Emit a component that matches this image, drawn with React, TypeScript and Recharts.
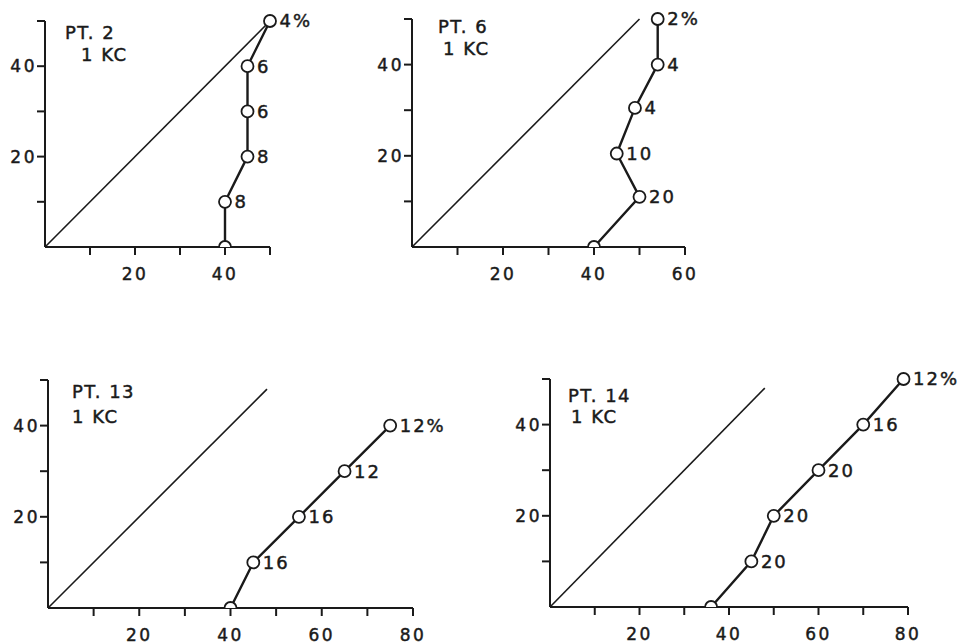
import React from 'react';
import { ScatterChart, Scatter, XAxis, YAxis, LabelList } from 'recharts';

// ---- data ----
const pt2X = [40, 40, 45, 45, 45, 50];
const pt2Y = [0, 10, 20, 30, 40, 50];
const pt2Labels = ['', '8', '8', '6', '6', '4%'];

const pt6X = [40, 50, 45, 49, 54, 54];
const pt6Y = [0, 11, 20.5, 30.5, 40, 50];
const pt6Labels = ['', '20', '10', '4', '4', '2%'];

const pt13X = [40, 45, 55, 65, 75];
const pt13Y = [0, 10, 20, 30, 40];
const pt13Labels = ['', '16', '16', '12', '12%'];

const pt14X = [36, 45, 50, 60, 70, 79];
const pt14Y = [0, 10, 20, 30, 40, 50];
const pt14Labels = ['', '20', '20', '20', '16', '12%'];

const diagShort = [0, 50];
const diagLong = [0, 48];

const yTicks = [10, 20, 30, 40, 50];
const yLabelled = [20, 40];
const xTicks50 = [10, 20, 30, 40, 50];
const xTicks60 = [10, 20, 30, 40, 50, 60];
const xTicks80 = [10, 20, 30, 40, 50, 60, 70, 80];
const xLabelled = [20, 40, 60, 80];

const titles = [
  ['PT. 2', '1 KC'],
  ['PT. 6', '1 KC'],
  ['PT. 13', '1 KC'],
  ['PT. 14', '1 KC'],
];

const FONT = '"DejaVu Sans", "Liberation Sans", sans-serif';
const INK = '#1a1a1a';

function build(xs: number[], ys: number[], labels: string[]) {
  return xs.map((x, i) => ({ x, y: ys[i], label: labels[i] }));
}
function diag(v: number[]) {
  return v.map((d) => ({ x: d, y: d }));
}

const Marker = (props: any) => {
  const { cx, cy, payload } = props;
  if (cx == null || cy == null) return <g />;
  const r = 6;
  if (payload && payload.y === 0) {
    return (
      <path
        d={`M ${cx - r} ${cy} A ${r} ${r} 0 0 1 ${cx + r} ${cy}`}
        fill="#fff"
        stroke={INK}
        strokeWidth={1.8}
      />
    );
  }
  return <circle cx={cx} cy={cy} r={r} fill="#fff" stroke={INK} strokeWidth={1.8} />;
};

const NoShape = () => <g />;

// plot geometry for each panel: plot left/right/top/bottom in page pixels
const panels = [
  { plotL: 45, plotR: 270, plotT: 21, plotB: 247, xMax: 50, xTicks: xTicks50, data: build(pt2X, pt2Y, pt2Labels), diagData: diag(diagShort) },
  { plotL: 412, plotR: 685, plotT: 19, plotB: 247, xMax: 60, xTicks: xTicks60, data: build(pt6X, pt6Y, pt6Labels), diagData: diag(diagShort) },
  { plotL: 48, plotR: 413, plotT: 380, plotB: 608, xMax: 80, xTicks: xTicks80, data: build(pt13X, pt13Y, pt13Labels), diagData: diag(diagLong) },
  { plotL: 550, plotR: 908, plotT: 379, plotB: 607, xMax: 80, xTicks: xTicks80, data: build(pt14X, pt14Y, pt14Labels), diagData: diag(diagLong) },
];

const titlePos = [
  [ [65, 39], [81, 61] ],
  [ [438, 33], [443, 55] ],
  [ [72, 398], [72, 423] ],
  [ [568, 402], [571, 423] ],
];

const tickStyle = { fontSize: 17, fill: INK, stroke: INK, strokeWidth: 0.45, fontFamily: FONT, letterSpacing: 2.5 };

export default function App() {
  return (
    <div style={{ position: 'absolute', left: 0, top: 0, width: 959, height: 644, background: '#fff', overflow: 'hidden' }}>
      {panels.map((p, i) => {
        const left = p.plotL - 45;
        const top = p.plotT - 20;
        const marginTop = 20;
        const plotW = p.plotR - p.plotL;
        const plotH = p.plotB - p.plotT;
        const rightPad = 60;
        const width = 45 + plotW + rightPad;
        const height = marginTop + plotH + 36;
        return (
          <div key={i} style={{ position: 'absolute', left, top, width, height }}>
            <ScatterChart
              width={width}
              height={height}
              margin={{ top: marginTop, right: rightPad, bottom: 0, left: 0 }}
              style={{ overflow: 'visible' }}
            >
              <XAxis
                type="number"
                dataKey="x"
                domain={[0, p.xMax]}
                ticks={p.xTicks}
                tickFormatter={(v: number) => (xLabelled.includes(v) ? String(v) : '')}
                axisLine={{ stroke: INK, strokeWidth: 2 }}
                tickLine={{ stroke: INK, strokeWidth: 2 }}
                tickSize={8}
                tickMargin={13}
                tick={tickStyle}
                height={36}
                interval={0}
              />
              <YAxis
                type="number"
                dataKey="y"
                domain={[0, 50]}
                ticks={yTicks}
                tickFormatter={(v: number) => (yLabelled.includes(v) ? String(v) : '')}
                axisLine={{ stroke: INK, strokeWidth: 2 }}
                tickLine={{ stroke: INK, strokeWidth: 2 }}
                tickSize={8}
                tickMargin={0}
                tick={tickStyle}
                width={45}
                interval={0}
              />
              <Scatter
                data={p.diagData}
                line={{ stroke: INK, strokeWidth: 1.6 }}
                shape={NoShape}
                isAnimationActive={false}
                legendType="none"
              />
              <Scatter
                data={p.data}
                line={{ stroke: INK, strokeWidth: 2.4 }}
                shape={Marker}
                isAnimationActive={false}
                legendType="none"
              >
                <LabelList
                  dataKey="label"
                  position="right"
                  offset={5}
                  style={{ fontSize: 18, fill: INK, stroke: INK, strokeWidth: 0.45, fontFamily: FONT, letterSpacing: 2 }}
                />
              </Scatter>
            </ScatterChart>
          </div>
        );
      })}
      <svg width={959} height={644} style={{ position: 'absolute', left: 0, top: 0, pointerEvents: 'none' }}>
        {titles.map((t, i) =>
          t.map((line, j) => (
            <text
              key={`${i}-${j}`}
              x={titlePos[i][j][0]}
              y={titlePos[i][j][1]}
              fontSize={18}
              fontFamily={FONT}
              fill={INK}
              stroke={INK}
              strokeWidth={0.45}
              letterSpacing={1.5}
            >
              {line}
            </text>
          ))
        )}
      </svg>
    </div>
  );
}
